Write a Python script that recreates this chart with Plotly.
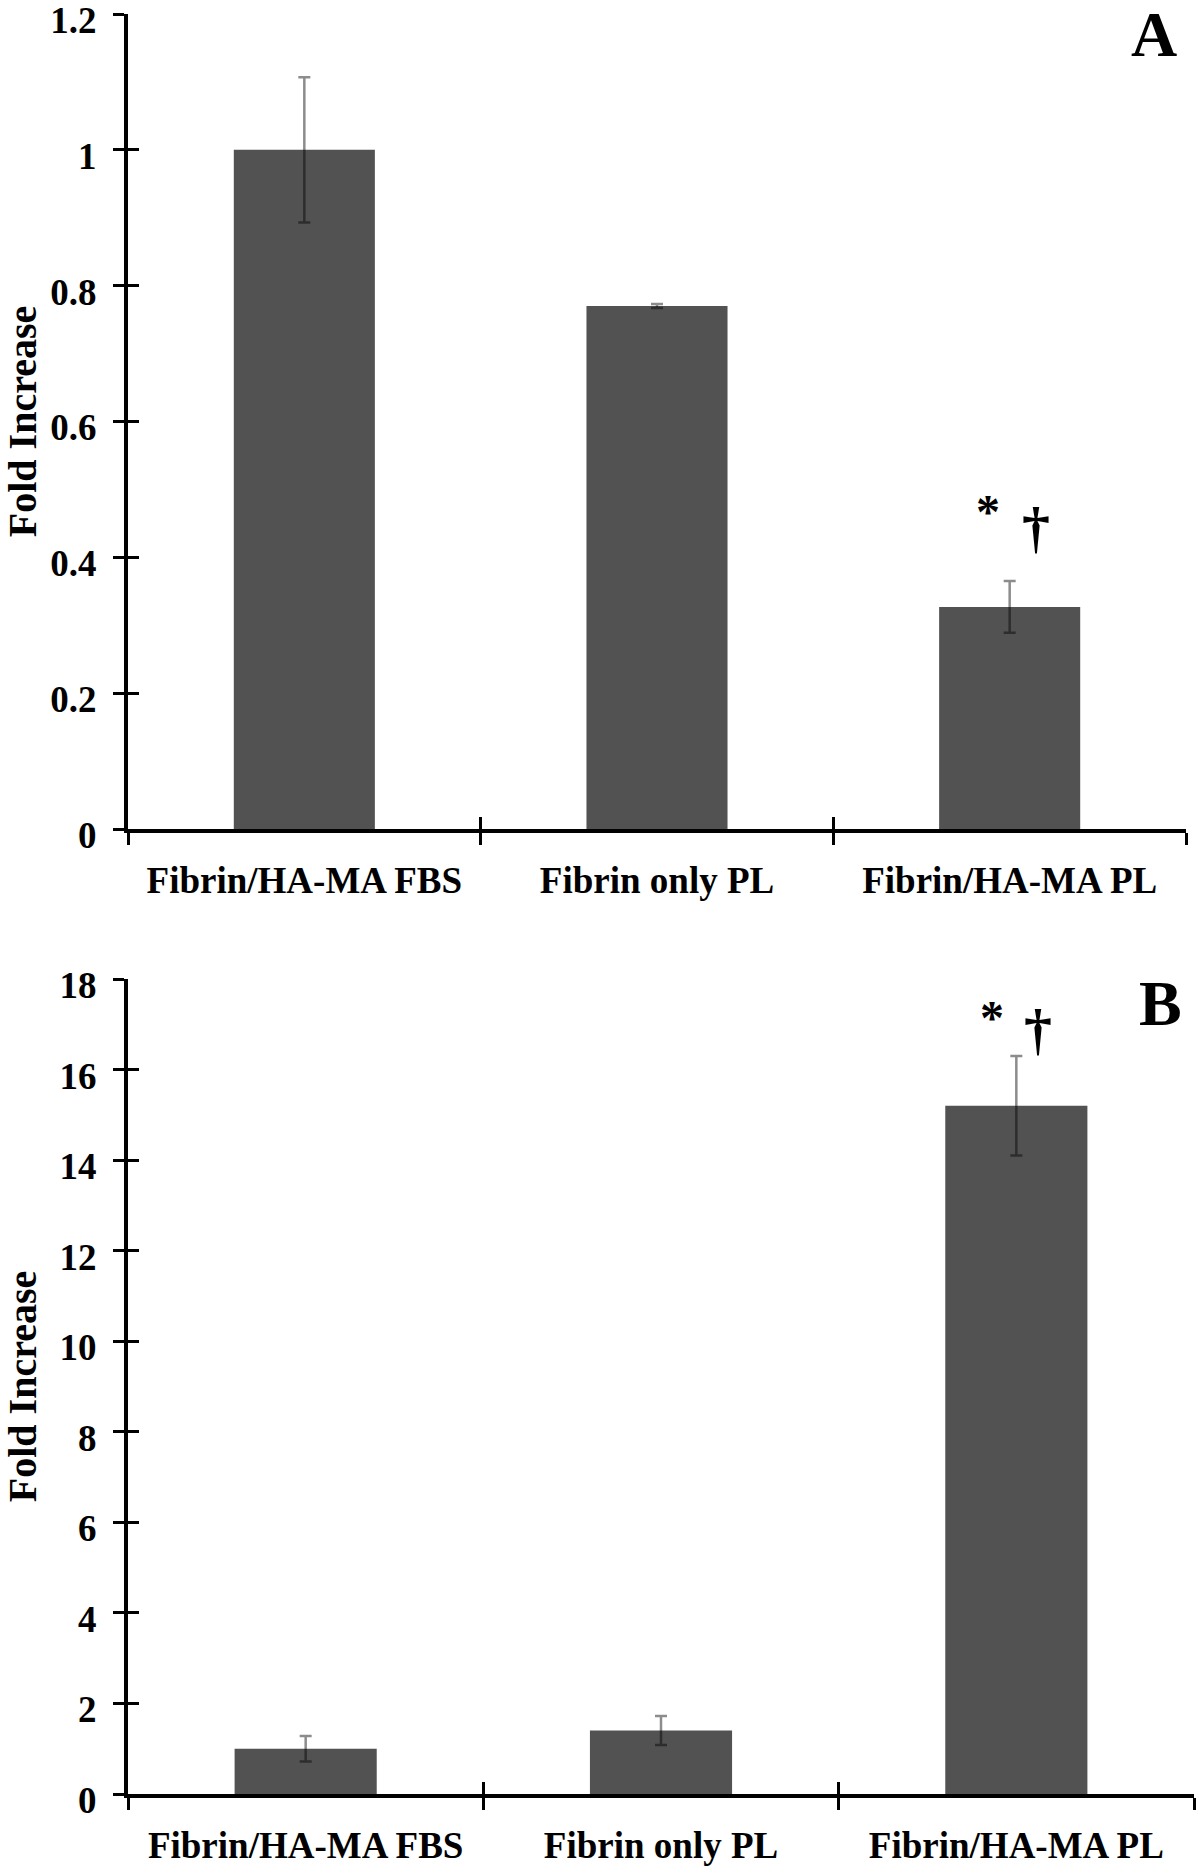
import plotly.graph_objects as go

categories = ["Fibrin/HA-MA FBS", "Fibrin only PL", "Fibrin/HA-MA PL"]

a_values = [1.0, 0.77, 0.327]
a_errors = [0.107, 0.003, 0.038]

b_values = [1.0, 1.40, 15.2]
b_errors = [0.28, 0.32, 1.1]

a_ticks = [0, 0.2, 0.4, 0.6, 0.8, 1.0, 1.2]
b_ticks = [0, 2, 4, 6, 8, 10, 12, 14, 16, 18]

FONT = "Liberation Serif"
BAR = "#525252"
ERR = "rgba(0,0,0,0.45)"

fig = go.Figure()

for vals, errs, xa, ya in [(a_values, a_errors, "x", "y"), (b_values, b_errors, "x2", "y2")]:
    fig.add_trace(go.Bar(
        x=categories, y=vals, width=0.4,
        marker=dict(color=BAR, line=dict(width=0)),
        error_y=dict(type="data", array=errs, color=ERR, thickness=2.5, width=6),
        xaxis=xa, yaxis=ya, showlegend=False, hoverinfo="skip",
    ))

# invisible traces to carry the inner halves of the cross ticks
for vals, xa, ya in [(a_values, "x3", "y3"), (b_values, "x4", "y4")]:
    fig.add_trace(go.Scatter(
        x=categories, y=vals, mode="markers", marker=dict(opacity=0),
        xaxis=xa, yaxis=ya, showlegend=False, hoverinfo="skip",
    ))

W, H = 1200, 1873
xa_dom = [128 / W, 1186 / W]
xb_dom = [128 / W, 1194 / W]
ya_dom = [1 - 829 / H, 1 - 14 / H]
yb_dom = [1 - 1794 / H, 1 - 979 / H]

tickfont = dict(family=FONT, size=37, color="black", weight="bold")
catfont = dict(family=FONT, size=37, color="black", weight="bold")
titlefont = dict(family=FONT, size=40, color="black", weight="bold")

def xaxis(dom, anchor, overlay=None):
    d = dict(
        domain=dom, anchor=anchor, type="category", categoryorder="array",
        categoryarray=categories, range=[-0.5, 2.5], tickson="boundaries",
        ticklen=12, tickwidth=3, tickcolor="black", showgrid=False, zeroline=False,
        fixedrange=True, automargin=False,
    )
    if overlay:
        d.update(overlaying=overlay, ticks="inside", showticklabels=False, showline=False)
    else:
        d.update(ticks="outside", showline=True, linecolor="black", linewidth=4,
                 tickfont=catfont, ticklabelstandoff=16, ticklabeloverflow="allow")
    return d

def yaxis(dom, anchor, rng, tv, overlay=None, title=None):
    d = dict(
        domain=dom, anchor=anchor, range=rng, tickvals=tv,
        ticklen=11, tickwidth=3, tickcolor="black", showgrid=False, zeroline=False,
        fixedrange=True, automargin=False,
    )
    if overlay:
        d.update(overlaying=overlay, ticks="inside", showticklabels=False, showline=False)
    else:
        d.update(ticks="outside", showline=True, linecolor="black", linewidth=4,
                 tickfont=tickfont, ticklabelstandoff=9, ticklabeloverflow="allow",
                 ticklabelshift=6,
                 title=dict(text=title, font=titlefont, standoff=33))
    return d

fig.update_layout(
    template="none",
    width=W, height=H, margin=dict(l=0, r=0, t=0, b=0, autoexpand=False),
    paper_bgcolor="white", plot_bgcolor="white",
    bargap=0.6,
    xaxis=xaxis(xa_dom, "y"),
    yaxis=yaxis(ya_dom, "x", [0, 1.2], a_ticks, title="Fold Increase"),
    xaxis2=xaxis(xb_dom, "y2"),
    yaxis2=yaxis(yb_dom, "x2", [0, 18], b_ticks, title="Fold Increase"),
    xaxis3=xaxis(xa_dom, "y3", overlay="x"),
    yaxis3=yaxis(ya_dom, "x3", [0, 1.2], a_ticks, overlay="y"),
    xaxis4=xaxis(xb_dom, "y4", overlay="x2"),
    yaxis4=yaxis(yb_dom, "x4", [0, 18], b_ticks, overlay="y2"),
)

starfont = dict(family=FONT, size=48, color="black", weight="bold")
daggerfont = dict(family=FONT, size=56, color="black", weight="bold")
letterfont = dict(family=FONT, size=64, color="black", weight="bold")

# significance marks above the third bar
fig.add_annotation(x=categories[2], y=0.467, xref="x", yref="y", text="*",
                   showarrow=False, xshift=-22, font=starfont, yanchor="middle")
fig.add_annotation(x=categories[2], y=0.443, xref="x", yref="y", text="†",
                   showarrow=False, xshift=26, font=daggerfont, yanchor="middle")
fig.add_annotation(x=categories[2], y=17.16, xref="x2", yref="y2", text="*",
                   showarrow=False, xshift=-24, font=starfont, yanchor="middle")
fig.add_annotation(x=categories[2], y=16.87, xref="x2", yref="y2", text="†",
                   showarrow=False, xshift=22, font=daggerfont, yanchor="middle")

# panel letters
fig.add_annotation(x=1154 / W, y=1 - 34 / H, xref="paper", yref="paper", text="A",
                   showarrow=False, font=letterfont, xanchor="center", yanchor="middle")
fig.add_annotation(x=1160 / W, y=1 - 1003 / H, xref="paper", yref="paper", text="B",
                   showarrow=False, font=letterfont, xanchor="center", yanchor="middle")

fig.write_html("out.html", config={"displayModeBar": False},
               post_script="document.body.style.margin='0';document.body.style.overflow='hidden';")
